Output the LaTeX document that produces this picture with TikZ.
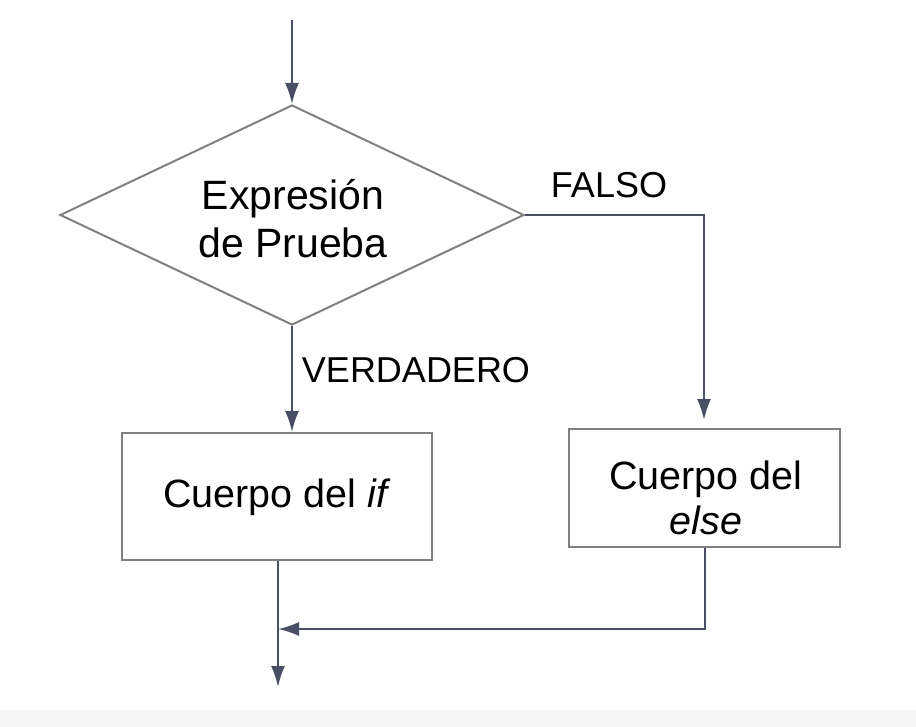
\documentclass[tikz,border=0pt]{standalone}
\usepackage{fontspec}
\setmainfont{Liberation Sans}
\usetikzlibrary{shapes.geometric,arrows.meta}
\definecolor{linec}{HTML}{4A5064}
\definecolor{edgec}{HTML}{808080}
\tikzset{
  conn/.style={draw=linec, line width=2pt, -{Latex[length=21pt,width=14pt]}},
  plain/.style={draw=linec, line width=2pt},
  boxnode/.style={draw=edgec, line width=2.6pt, rectangle, inner sep=0pt},
  boxtext/.style={align=center, inner sep=0pt, font=\fontsize{39.5}{45}\selectfont},
  decnode/.style={draw=edgec, line width=2pt, diamond, aspect=2.109, inner sep=0pt, minimum width=464pt, minimum height=220pt},
  lbl/.style={font=\fontsize{36}{40}\selectfont, inner sep=0pt},
}
\begin{document}
\begin{tikzpicture}[x=1pt,y=-1pt]
\useasboundingbox (0,0) rectangle (916,727);
\fill[black!4] (0,710) rectangle (916,727);
\node[decnode] (dec) at (292,215) {};
\node[align=center, font=\fontsize{41}{48}\selectfont] (dectext) at (293,219) {Expresión\\de Prueba};
\node[boxnode, minimum width=310pt, minimum height=127pt] (ifbox) at (277,496.5) {};
\node[boxtext] (iftext) at (277,497) {Cuerpo del \textit{if}};
\node[boxnode, minimum width=271pt, minimum height=118pt] (elsebox) at (704.5,488) {};
\node[boxtext] (elsetext) at (706,498) {Cuerpo del\\\textit{else}};
\coordinate (start) at (292,20);
\coordinate (merge) at (278,629);
\coordinate (out) at (278,687);
\coordinate (ifin) at (292,432);
\coordinate (elsein) at (704,420);
\draw[conn] (start) -- (dec.north);
\draw[conn] (dec.south) -- (ifin);
\draw[conn] (dec.east) -| (elsein);
\draw[plain] (elsebox.south) |- ([xshift=18pt]merge);
\draw[conn] (elsebox.south |- merge) -- (merge);
\draw[conn] (ifbox.south -| merge) -- (out);
\node[lbl] (falso) at (609,185) {FALSO};
\node[lbl] (verd) at (416,370) {VERDADERO};
\end{tikzpicture}
\end{document}
